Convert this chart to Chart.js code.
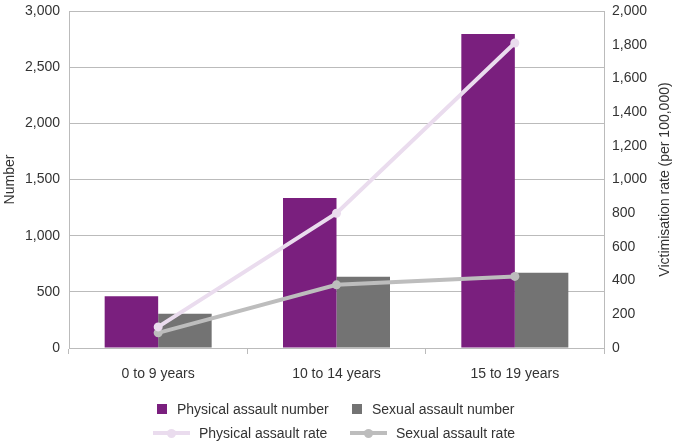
<!DOCTYPE html>
<html>
<head>
<meta charset="utf-8">
<script src="https://cdn.jsdelivr.net/npm/chart.js@4"></script>
<style>
  body { margin: 0; background: #fff; font-family: "Liberation Sans", Arial, sans-serif; }
  #wrap { position: relative; width: 675px; height: 445px; }
  #legend { position: absolute; left: 0; top: 0; width: 675px; height: 445px; pointer-events: none; }
  .item { position: absolute; font-size: 14px; color: #333; line-height: 16px; white-space: nowrap; }
  .box { position: absolute; width: 10px; height: 10px; }
  .line { position: absolute; width: 37px; height: 4px; }
  .dot { position: absolute; width: 9px; height: 9px; border-radius: 50%; left: 14px; top: -2.5px; }
</style>
</head>
<body>
<div id="wrap">
  <canvas id="chart" width="675" height="385"></canvas>
  <div id="legend"></div>
</div>
<script>
// categories and values
const categories = ["0 to 9 years", "10 to 14 years", "15 to 19 years"];
const physicalNumber = [460, 1335, 2795];
const sexualNumber = [305, 635, 670];
const physicalRate = [125, 800, 1810];
const sexualRate = [90, 375, 425];

const purple = "#7A1F7E";
const grey = "#737373";
const lavender = "#EADCEE";
const lightGrey = "#BDBDBD";
const gridColour = "#BBBBBB";
const textColour = "#333333";
const rateTitle = "Victimisation rate (per 100,000)";

Chart.defaults.font.family = '"Liberation Sans", Arial, sans-serif';
Chart.defaults.font.size = 14;
Chart.defaults.color = textColour;

// right axis title reads bottom to top in the original, so draw it by hand
const rightTitle = {
  id: "rightTitle",
  afterDraw: function (chart) {
    const c = chart.ctx;
    const area = chart.chartArea;
    c.save();
    c.translate(665, (area.top + area.bottom) / 2);
    c.rotate(-Math.PI / 2);
    c.font = '14px "Liberation Sans", Arial, sans-serif';
    c.fillStyle = textColour;
    c.textAlign = "center";
    c.textBaseline = "middle";
    c.fillText(rateTitle, 0, 0);
    c.restore();
  },
};

// fixed axis sizes so the plot area sits where it does in the original
function fitY(width) {
  return function (scale) {
    scale.width = width;
    scale.paddingTop = 0;
    scale.paddingBottom = 0;
  };
}

var ctx = document.getElementById("chart").getContext("2d");
var chart = new Chart(ctx, {
  type: "bar",
  data: {
    labels: categories,
    datasets: [
      {
        type: "line",
        label: "Physical assault rate",
        data: physicalRate,
        yAxisID: "yRate",
        borderColor: lavender,
        backgroundColor: lavender,
        borderWidth: 4,
        pointRadius: 4.5,
        pointBorderWidth: 0,
        order: 0,
      },
      {
        type: "line",
        label: "Sexual assault rate",
        data: sexualRate,
        yAxisID: "yRate",
        borderColor: lightGrey,
        backgroundColor: lightGrey,
        borderWidth: 4,
        pointRadius: 4.5,
        pointBorderWidth: 0,
        order: 0,
      },
      {
        label: "Physical assault number",
        data: physicalNumber,
        yAxisID: "yNum",
        backgroundColor: purple,
        categoryPercentage: 0.6,
        barPercentage: 1,
        order: 1,
      },
      {
        label: "Sexual assault number",
        data: sexualNumber,
        yAxisID: "yNum",
        backgroundColor: grey,
        categoryPercentage: 0.6,
        barPercentage: 1,
        order: 1,
      },
    ],
  },
  options: {
    responsive: false,
    animation: false,
    layout: { padding: { top: 11, left: 0, right: 0, bottom: 0 } },
    plugins: {
      legend: { display: false },
      tooltip: { enabled: false },
    },
    scales: {
      x: {
        grid: {
          offset: true,
          drawOnChartArea: false,
          drawTicks: true,
          tickLength: 6,
          color: gridColour,
        },
        border: { color: gridColour },
        ticks: { padding: 12, color: textColour },
        afterFit: function (scale) {
          scale.height = 37;
          scale.paddingLeft = 0;
          scale.paddingRight = 0;
        },
      },
      yNum: {
        position: "left",
        min: 0,
        max: 3000,
        ticks: { stepSize: 500, padding: 9, color: textColour },
        grid: { color: gridColour, drawTicks: false },
        border: { color: gridColour },
        title: { display: true, text: "Number", color: textColour, padding: { top: 2, bottom: 0 } },
        afterFit: fitY(69),
      },
      yRate: {
        position: "right",
        min: 0,
        max: 2000,
        ticks: { stepSize: 200, padding: 8, color: textColour },
        grid: { drawOnChartArea: false, drawTicks: false },
        border: { color: gridColour },
        afterFit: fitY(71),
      },
    },
  },
  plugins: [rightTitle],
});

// legend drawn as html, two rows like the original
const legendItems = [
  { text: "Physical assault number", kind: "box", colour: purple, x: 157, y: 409 },
  { text: "Sexual assault number", kind: "box", colour: grey, x: 352, y: 409 },
  { text: "Physical assault rate", kind: "line", colour: lavender, x: 153, y: 433 },
  { text: "Sexual assault rate", kind: "line", colour: lightGrey, x: 350, y: 433 },
];
const legend = document.getElementById("legend");
legendItems.forEach(function (it) {
  if (it.kind === "box") {
    const b = document.createElement("div");
    b.className = "box";
    b.style.background = it.colour;
    b.style.left = it.x + "px";
    b.style.top = (it.y - 5) + "px";
    legend.appendChild(b);
  } else {
    const l = document.createElement("div");
    l.className = "line";
    l.style.background = it.colour;
    l.style.left = it.x + "px";
    l.style.top = (it.y - 2) + "px";
    const d = document.createElement("div");
    d.className = "dot";
    d.style.background = it.colour;
    l.appendChild(d);
    legend.appendChild(l);
  }
  const t = document.createElement("div");
  t.className = "item";
  t.textContent = it.text;
  t.style.left = (it.x + (it.kind === "box" ? 20 : 46)) + "px";
  t.style.top = (it.y - 8) + "px";
  legend.appendChild(t);
});
</script>
</body>
</html>
